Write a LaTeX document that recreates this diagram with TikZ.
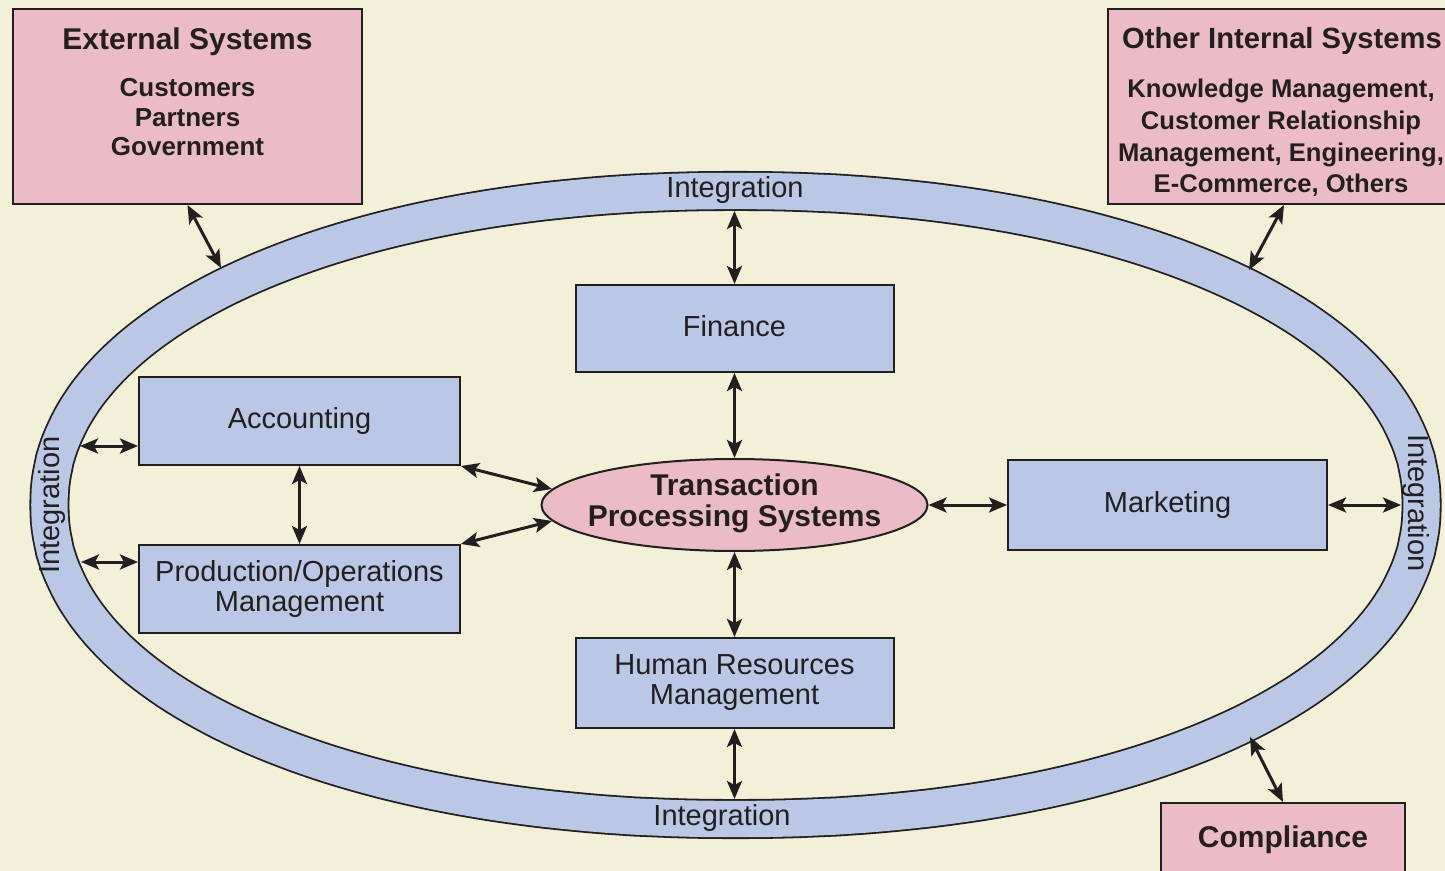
\documentclass[tikz,border=0pt]{standalone}
\usepackage{fontspec}
\setmainfont{Liberation Sans}
\usetikzlibrary{arrows.meta,shapes.geometric}
\definecolor{bgc}{RGB}{242,240,214}
\definecolor{pinkc}{RGB}{236,188,198}
\definecolor{bluec}{RGB}{187,200,229}
\definecolor{edgec}{RGB}{34,31,32}
\tikzset{
  bluebox/.style={draw=edgec, line width=1pt, fill=bluec, text=edgec,
    font=\fontsize{14.5}{15}\selectfont, align=center, inner sep=0pt},
  pinkbox/.style={draw=edgec, line width=1pt, fill=pinkc, text=edgec,
    align=center, inner sep=0pt},
  pinktitle/.style={text=edgec, inner sep=0pt, font=\bfseries\fontsize{15}{16}\selectfont},
  pinksub/.style={text=edgec, inner sep=0pt, align=center},
  dbl/.style={{Stealth[length=9pt,width=7.5pt,inset=2pt]}-{Stealth[length=9pt,width=7.5pt,inset=2pt]},
    line width=1.5pt, draw=edgec},
  ringlabel/.style={font=\fontsize{14.5}{15}\selectfont, text=edgec, inner sep=0pt}
}
\begin{document}
\begin{tikzpicture}[x=0.5pt,y=-0.5pt]
\useasboundingbox (0,0) rectangle (1445,871);
\fill[bgc] (0,0) rectangle (1445,871);

% integration ring
\path[preaction={draw=edgec, line width=20pt, line join=round},
      draw=bluec, line width=18.2pt, line join=round]
  plot[domain=0:360, samples=289, variable=\t]
  ({735.5+686*sign(cos(\t))*(abs(cos(\t))+0.0001)^0.952},
   {505+314*sign(sin(\t))*(abs(sin(\t))+0.0001)^0.952}) -- cycle;

\node[ringlabel, anchor=base] (intTop) at (735,198) {Integration};
\node[ringlabel, anchor=base] (intBot) at (722,825) {Integration};
\node[ringlabel, rotate=90] (intLeft) at (52,505) {Integration};
\node[ringlabel, rotate=-90] (intRight) at (1416,503) {Integration};

% ring contact points
\coordinate (rExt) at (221,268);
\coordinate (rOth) at (1249,270);
\coordinate (rComp) at (1250,737);
\coordinate (rTop) at (734.5,211);
\coordinate (rBot) at (734.5,799);
\coordinate (rAcc) at (80,446);
\coordinate (rProd) at (81,562);
\coordinate (rMkt) at (1401,505);

% outer pink boxes
\node[pinkbox, minimum width=174.5pt, minimum height=97.5pt] (ext) at (187.5,106.5) {};
\node[pinktitle, anchor=north] (extTitle) at (187.5,27) {External Systems};
\node[pinksub, anchor=north, font=\bfseries\fontsize{13}{14.8}\selectfont] (extSub) at (187.5,78)
  {Customers\\Partners\\Government};

\node[pinkbox, minimum width=176pt, minimum height=97.5pt] (other) at (1284,106.5) {};
\node[pinktitle, anchor=north, font=\bfseries\fontsize{14.6}{16}\selectfont] (othTitle) at (1282,27) {Other Internal Systems};
\node[pinksub, anchor=north, font=\bfseries\fontsize{12.8}{15.8}\selectfont] (othSub) at (1281,79)
  {Knowledge Management,\\Customer Relationship\\Management, Engineering,\\E-Commerce, Others};

\node[pinkbox, minimum width=122pt, minimum height=37pt,
      font=\bfseries\fontsize{15}{16}\selectfont] (comp) at (1283,840) {Compliance};

% functional boxes
\node[bluebox, minimum width=159pt, minimum height=43.5pt, text depth=3pt] (fin) at (734.5,328.5) {Finance};
\node[bluebox, minimum width=160.5pt, minimum height=44pt] (acc) at (299.5,421) {Accounting};
\node[bluebox, minimum width=160.5pt, minimum height=44pt] (prod) at (299.5,589)
  {Production/Operations\\Management};
\node[bluebox, minimum width=159.5pt, minimum height=45pt] (mkt) at (1167.5,505) {Marketing};
\node[bluebox, minimum width=159pt, minimum height=45pt] (hr) at (734.5,683)
  {Human Resources\\Management};

\node[ellipse, draw=edgec, line width=1pt, fill=pinkc, text=edgec, inner sep=0pt,
      minimum width=193pt, minimum height=46pt,
      font=\bfseries\fontsize{15}{15}\selectfont] (tps) at (734.5,505)
  {\makebox[120pt][c]{\begin{tabular}{@{}c@{}}Transaction\\Processing Systems\end{tabular}}};

% connectors
\draw[dbl] (ext.south) -- (rExt);
\draw[dbl] (other.south) -- (rOth);
\draw[dbl] (rComp) -- (comp.north);
\draw[dbl] (rTop) -- (fin.north);
\draw[dbl] (fin.south) -- (tps.north);
\draw[dbl] (tps.south) -- (hr.north);
\draw[dbl] (hr.south) -- (rBot);
\draw[dbl] (rAcc) -- (acc.west |- rAcc);
\draw[dbl] (rProd) -- (prod.west |- rProd);
\draw[dbl] (acc.south) -- (prod.north);
\draw[dbl] (acc.south east) -- (tps.175);
\draw[dbl] (prod.north east) -- (tps.185);
\draw[dbl] (tps.east) -- (mkt.west);
\draw[dbl] (mkt.east) -- (rMkt);
\end{tikzpicture}
\end{document}
